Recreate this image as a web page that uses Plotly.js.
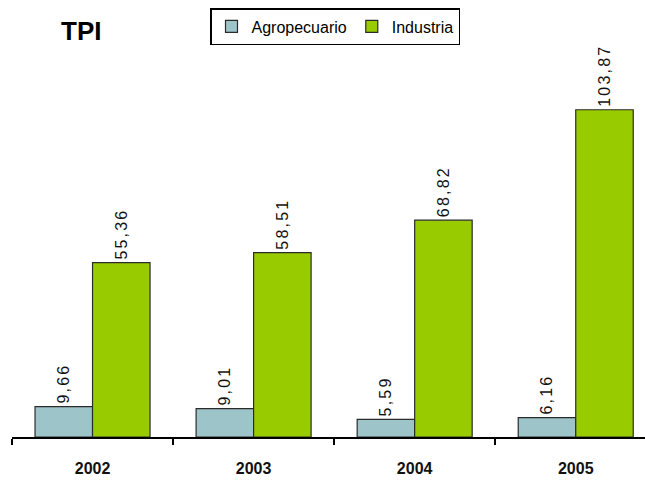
<!DOCTYPE html>
<html>
<head>
<meta charset="utf-8">
<script src="https://cdn.plot.ly/plotly-3.0.1.min.js"></script>
<style>html,body{margin:0;padding:0;background:#fff;}#chart{width:645px;height:487px;}</style>
</head>
<body>
<div id="chart"></div>
<script>
const years = ['2002', '2003', '2004', '2005'];
const agropecuario = [9.66, 9.01, 5.59, 6.16];
const industria = [55.36, 58.51, 68.82, 103.87];
const agroLabels = ['9,66', '9,01', '5,59', '6,16'];
const indLabels = ['55,36', '58,51', '68,82', '103,87'];

const textFont = {family: 'Liberation Sans, Arial, sans-serif', size: 16, color: '#111'};
const tmpl = '<span style="letter-spacing:2.2px">%{text}</span>';

const traces = [
  {
    type: 'bar', name: 'Agropecuario', x: years, y: agropecuario,
    text: agroLabels, texttemplate: tmpl, textposition: 'outside', textangle: -90,
    constraintext: 'none', cliponaxis: false, textfont: textFont,
    marker: {color: '#9dc4c9', line: {color: '#2b2b2b', width: 1.2}},
    hoverinfo: 'skip'
  },
  {
    type: 'bar', name: 'Industria', x: years, y: industria,
    text: indLabels, texttemplate: tmpl, textposition: 'outside', textangle: -90,
    constraintext: 'none', cliponaxis: false, textfont: textFont,
    marker: {color: '#99cc00', line: {color: '#2b2b2b', width: 1.2}},
    hoverinfo: 'skip'
  }
];

const layout = {
  width: 645, height: 487,
  margin: {l: 12, r: 0, t: 0, b: 50},
  paper_bgcolor: '#ffffff', plot_bgcolor: '#ffffff',
  barmode: 'group', bargap: 0.286, bargroupgap: 0,
  title: {
    text: '<b>TPI</b>', x: 61/645, xanchor: 'left', xref: 'container',
    y: 1 - 31/487, yanchor: 'middle', yref: 'container',
    font: {family: 'Liberation Sans, Arial, sans-serif', size: 26, color: '#000'}
  },
  showlegend: true,
  legend: {
    orientation: 'h', x: (210 - 12)/633, xanchor: 'left', y: 1 - 8/437, yanchor: 'top',
    bgcolor: '#ffffff', bordercolor: '#000', borderwidth: 1.5,
    font: {family: 'Liberation Sans, Arial, sans-serif', size: 16, color: '#000'},
    itemwidth: 30, traceorder: 'normal'
  },
  xaxis: {
    type: 'category', range: [-0.5, 3.43], fixedrange: true,
    showline: true, linecolor: '#000', linewidth: 1.5,
    ticks: 'outside', tickson: 'boundaries', ticklen: 6, tickcolor: '#000', tickwidth: 1.5,
    ticklabelstandoff: 16, showgrid: false, zeroline: false,
    tickfont: {family: 'Liberation Sans, Arial, sans-serif', size: 16, color: '#111', weight: 'bold'}
  },
  yaxis: {
    range: [0, 138.7], visible: false, showgrid: false, zeroline: false, fixedrange: true
  }
};

Plotly.newPlot('chart', traces, layout, {displayModeBar: false, staticPlot: true});
</script>
</body>
</html>
